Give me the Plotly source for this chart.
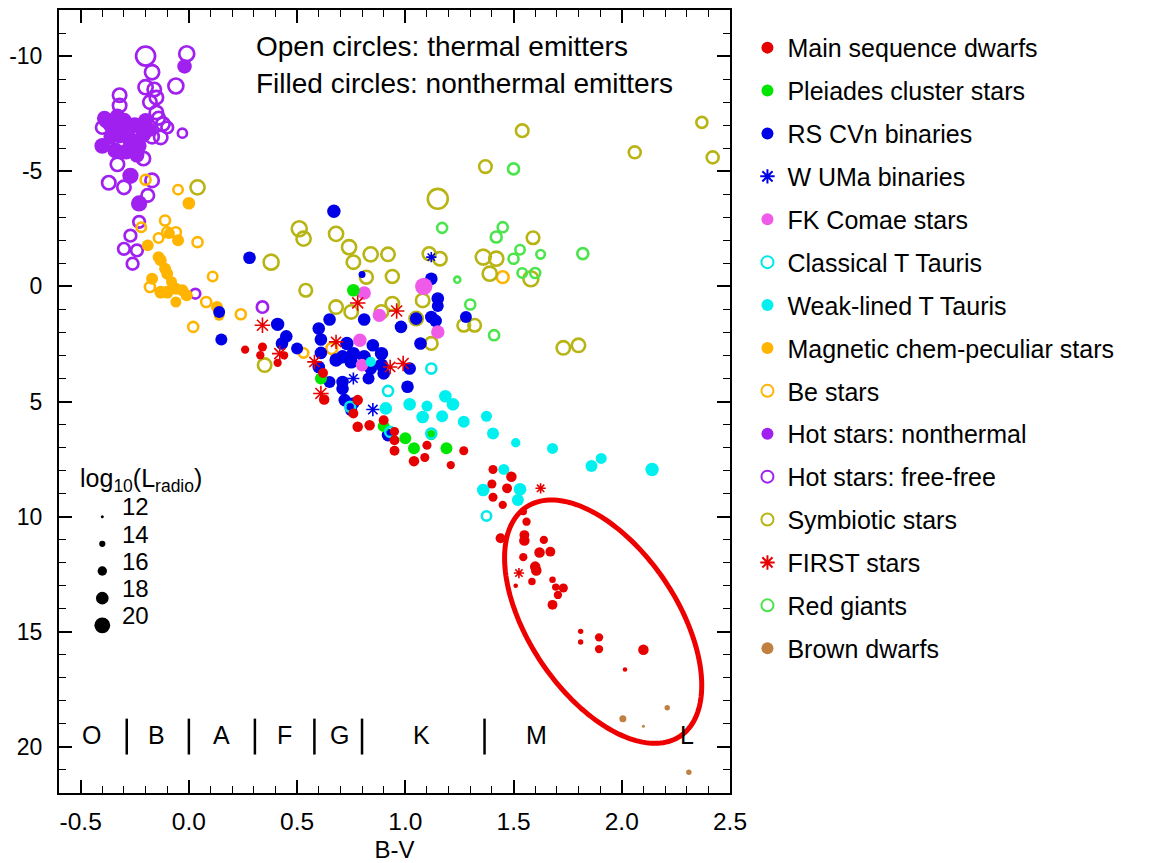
import numpy as np
import plotly.graph_objects as go

# ---------------------------------------------------------------------------
# Stellar radio sources: B-V colour, absolute magnitude M_V, log10(L_radio)
# ---------------------------------------------------------------------------
MSD_BV = [0.34, 0.33, 0.41, 0.62, 0.625, 0.78, 0.76, 0.78, 0.835, 0.90, 0.95, 0.95, 1.10, 1.09, 1.27,
          1.04, 1.21, 1.405, 1.49, 1.40, 1.47, 1.405, 1.45, 1.545, 1.56, 1.55, 1.44, 1.55, 1.64, 1.62,
          1.67, 1.545, 1.60, 1.605, 1.585, 1.51, 1.68, 1.695, 1.73, 1.705, 1.68, 1.81, 1.81, 1.895,
          1.895, 2.10, 2.015, 0.26, 0.44, 0.95]
MSD_MV = [2.63, 2.99, 3.32, 3.76, 4.91, 4.94, 5.52, 6.10, 6.03, 5.81, 6.68, 7.14, 6.90, 7.43, 7.14,
          7.59, 7.76, 7.95, 8.27, 8.58, 8.77, 9.16, 9.49, 9.78, 10.22, 10.80, 10.94, 11.04, 11.01, 11.56,
          11.52, 11.76, 12.17, 12.34, 12.82, 13.00, 12.74, 13.06, 13.10, 13.40, 13.83, 14.98, 15.44, 15.24,
          15.75, 15.78, 16.64, 2.75, 3.00, 6.30]
MSD_LOGL = [15.8, 15.3, 15.3, 16.3, 16.7, 16.7, 16.3, 16.7, 16.7, 16.3, 16.3, 16.3, 15.8, 15.8, 15.8,
            16.7, 15.3, 15.8, 16.7, 15.8, 16.3, 15.8, 15.3, 14.8, 15.3, 16.3, 16.3, 16.7, 15.3, 16.7,
            16.3, 15.3, 16.7, 16.7, 14.8, 13.0, 14.2, 14.8, 15.8, 15.3, 16.3, 13.5, 13.5, 15.3,
            15.3, 16.7, 13.0, 15.3, 15.3, 15.8]

PLE_BV = [0.76, 0.61, 0.90, 1.00, 1.04, 1.19, 1.12]
PLE_MV = [0.17, 4.00, 6.07, 6.60, 7.03, 7.03, 6.46]
PLE_LOGL = [18.0, 17.6, 17.6, 17.6, 17.6, 17.6, 16.4]

RSC_BV = [0.67, 0.28, 0.15, 0.41, 0.45, 0.43, 0.50, 0.65, 0.60, 0.61, 0.61, 0.60, 0.65, 0.71, 0.71,
          0.73, 0.71, 0.76, 0.81, 0.85, 0.89, 0.89, 0.90, 0.83, 1.01, 1.02, 0.98, 1.05, 1.12, 1.15,
          1.12, 1.07, 0.81, 1.28, 0.80, 0.72, 0.75, 0.92, 0.84, 0.14, 1.15, 1.14, 0.68, 0.75, 0.76]
RSC_MV = [-3.26, -1.24, 2.31, 1.65, 2.17, 2.48, 2.70, 1.44, 1.83, 2.31, 2.89, 3.50, 4.15, 4.15, 4.44,
          2.48, 3.06, 2.92, 3.06, 2.56, 2.92, 3.42, 3.78, 4.00, 4.36, 3.57, 1.76, 1.40, -0.33, 0.53,
          1.33, 2.48, 1.44, 1.33, -0.51, 4.94, 5.38, 6.46, 3.57, 1.11, 0.85, 1.50, 3.20, 3.28, 5.08]
RSC_LOGL = [18.5, 18.0, 17.6, 18.5, 18.0, 18.0, 17.6, 18.0, 18.0, 18.0, 18.0, 18.0, 17.6, 18.0, 18.0,
            18.5, 18.5, 18.5, 18.5, 18.0, 18.5, 18.5, 18.0, 17.6, 18.0, 18.0, 18.0, 18.0, 18.0, 18.0,
            18.0, 18.0, 18.0, 17.6, 14.5, 18.0, 17.6, 18.0, 18.0, 17.6, 17.6, 18.0, 18.5, 18.5, 17.6]

WUM_BV = [0.76, 0.85, 1.12]
WUM_MV = [4.00, 5.35, -1.27]
WUM_LOGL = [16.4, 17.0, 15.5]

FKC_BV = [1.085, 0.81, 0.88, 1.15, 0.79, 0.80]
FKC_MV = [0.00, 0.29, 1.26, 1.98, 2.34, 3.42]
FKC_LOGL = [21.0, 18.5, 18.5, 18.5, 18.5, 18.0]

CTT_BV = [1.12, 0.92, 0.745, 0.93, 1.12, 1.375]
CTT_MV = [3.57, 4.54, 5.23, 6.32, 6.39, 9.97]
CTT_LOGL = [16.4, 16.4, 16.4, 16.4, 16.4, 16.0]

WTT_BV = [0.84, 0.91, 1.02, 1.08, 1.17, 1.185, 1.22, 1.27, 1.375, 1.405, 1.51, 1.68, 1.86, 1.905,
          2.14, 1.455, 1.36, 1.53, 1.52, 1.10]
WTT_MV = [3.28, 5.30, 5.12, 5.67, 5.64, 4.77, 5.12, 5.88, 5.64, 6.39, 6.79, 7.04, 7.80, 7.47,
          7.95, 7.95, 8.84, 8.81, 9.28, 5.20]
WTT_LOGL = [16.4, 18.0, 18.0, 18.0, 17.6, 18.0, 18.0, 17.6, 17.0, 17.6, 16.0, 17.0, 17.6, 17.0,
            18.5, 17.0, 18.0, 18.0, 17.6, 17.0]

MCP_BV = [0.00, -0.19, -0.14, -0.13, -0.11, -0.10, -0.17, -0.05, -0.09, -0.13, -0.10, -0.06, -0.03,
          -0.06, -0.01, 0.13, 0.14, -0.08]
MCP_MV = [-3.61, -1.78, -1.27, -1.13, -0.77, -0.55, -0.33, -2.00, -2.30, 0.25, 0.25, 0.10, 0.17,
          0.68, 0.39, 0.90, 1.26, -0.20]
MCP_LOGL = [18.0, 17.6, 17.6, 17.6, 17.6, 17.6, 17.6, 17.6, 17.0, 18.2, 18.2, 17.6, 17.6,
            17.0, 17.6, 17.6, 17.0, 17.0]

BE_BV = [-0.20, -0.05, -0.11, -0.22, -0.10, -0.06, 0.04, 0.11, -0.18, 0.08, 0.02, 0.24, 0.53, 0.66,
         1.45, -0.14]
BE_MV = [-4.63, -4.20, -2.86, -2.57, -2.35, -2.35, -1.92, -0.43, 0.03, 0.68, 1.76, 1.21, 2.89, 2.70,
         -0.40, -2.10]
BE_LOGL = [16.4, 16.0, 16.4, 16.0, 16.4, 16.4, 16.4, 16.0, 16.4, 16.4, 16.4, 16.4, 16.0, 17.0,
           17.5, 16.0]

HNT_BV = [-0.02, -0.39, -0.35, -0.30, -0.25, -0.20, -0.32, -0.27, -0.21, -0.40, -0.34, -0.29, -0.23,
          -0.28, -0.27, -0.23, -0.33, -0.18, -0.36, -0.24]
HNT_MV = [-9.55, -7.30, -7.00, -7.20, -7.00, -7.20, -6.55, -6.35, -6.60, -6.10, -5.90, -5.85, -6.10,
          -6.90, -4.80, -3.60, -7.40, -6.80, -6.50, -5.70]
HNT_LOGL = [19.2, 19.5, 20.0, 20.0, 20.0, 19.5, 20.0, 20.5, 20.0, 20.0, 20.0, 20.0, 19.5,
            20.0, 20.3, 20.3, 19.5, 19.0, 19.5, 19.5]

HFF_BV = [-0.20, -0.01, -0.17, -0.06, -0.20, -0.16, -0.32, -0.15, -0.18, -0.32, -0.15, -0.12, -0.38,
          -0.13, -0.03, -0.17, -0.33, -0.37, -0.30, -0.17, -0.21, -0.19, -0.23, -0.27, -0.30, -0.24,
          -0.26, 0.03, 0.34, -0.36, -0.25, -0.14, -0.10, -0.40]
HFF_MV = [-10.0, -10.1, -9.30, -8.70, -8.65, -8.55, -8.30, -8.20, -8.00, -7.85, -7.55, -7.05, -7.20,
          -6.47, -6.65, -6.50, -5.30, -4.50, -4.30, -4.60, -5.55, -3.95, -2.80, -2.20, -1.63, -1.56,
          -0.98, 0.32, 0.90, -7.00, -6.00, -7.30, -6.90, -6.90]
HFF_LOGL = [22.0, 19.5, 19.0, 19.5, 19.0, 18.5, 18.5, 18.5, 18.5, 18.5, 18.5, 18.5, 18.5,
            18.5, 15.8, 18.5, 18.5, 18.5, 18.5, 18.5, 18.5, 18.0, 17.4, 17.4, 17.4, 17.4,
            17.4, 16.2, 17.2, 18.5, 18.0, 18.0, 17.4, 18.0]

SYM_BV = [0.04, 1.15, 0.51, 0.53, 0.68, 0.74, 0.84, 0.92, 0.76, 0.38, 0.82, 0.94, 1.11, 1.16, 0.54,
          0.68, 0.75, 0.94, 0.89, 1.05, 1.08, 1.12, 0.35, 1.27, 1.32, 1.36, 1.39, 1.42, 1.54, 2.06,
          2.42, 2.37, 1.37, 1.59, 1.58, 1.73, 1.80]
SYM_MV = [-4.30, -3.80, -2.50, -2.07, -2.28, -1.70, -1.39, -1.39, -1.05, -1.05, -0.40, -0.43, -1.42,
          -1.20, 0.17, 0.90, 1.11, 0.75, 1.11, 1.40, 0.61, 2.48, 3.42, 1.69, 1.69, -1.27, -0.55, -1.20,
          -6.76, -5.82, -5.60, -7.12, -5.20, -2.11, -0.33, 2.67, 2.56]
SYM_LOGL = [19.0, 22.6, 19.5, 19.0, 19.0, 19.0, 19.0, 18.5, 18.5, 19.5, 18.2, 18.2, 18.2, 18.5,
            18.0, 18.5, 18.5, 18.5, 18.5, 18.5, 18.5, 18.0, 18.5, 18.0, 18.0, 19.5, 19.0, 19.0,
            18.0, 17.6, 17.6, 17.0, 18.0, 18.0, 19.5, 18.5, 18.5]

FST_BV = [0.34, 0.42, 0.58, 0.78, 0.96, 0.68, 0.93, 0.99, 0.61, 1.625, 1.525]
FST_MV = [1.69, 2.92, 3.28, 0.72, 1.07, 2.41, 3.50, 3.35, 4.65, 8.77, 12.45]
FST_LOGL = [18.2, 18.2, 17.6, 18.2, 18.2, 17.6, 17.6, 18.2, 18.2, 15.5, 15.5]

RGI_BV = [1.50, 1.17, 1.45, 1.42, 1.53, 1.50, 1.625, 1.82, 1.24, 1.54, 1.60, 1.30, 1.41]
RGI_MV = [-5.10, -2.54, -2.57, -2.14, -1.59, -1.20, -1.39, -1.42, -0.29, -0.58, -0.58, 0.79, 2.12]
RGI_LOGL = [17.0, 16.4, 16.4, 17.0, 16.0, 16.4, 15.5, 17.0, 13.9, 16.0, 16.4, 16.4, 16.4]

BDW_BV = [2.005, 2.10, 2.21, 2.31]
BDW_MV = [18.78, 19.10, 18.30, 21.10]
BDW_LOGL = [14.5, 12.0, 13.5, 13.5]

# size-key values and spectral-type labels
SIZE_KEY_LOGL = [12, 14, 16, 18, 20]
SPEC_TYPES = ["O", "B", "A", "F", "G", "K", "M", "L"]
SPEC_LABEL_BV = [-0.45, -0.148, 0.153, 0.44, 0.695, 1.074, 1.606, 2.30]
SPEC_BOUNDARY_BV = [-0.287, 0.0, 0.305, 0.58, 0.80, 1.366]

X_TICKS = [-0.5, 0.0, 0.5, 1.0, 1.5, 2.0, 2.5]
Y_TICKS = [-10, -5, 0, 5, 10, 15, 20]

# ---------------------------------------------------------------------------
FONT = "Liberation Sans, Arial, Helvetica, sans-serif"
W, H = 1159, 863
ML, MR, MT, MB = 59, 429, 10, 70
XR = [-0.6, 2.5]
YR = [22, -12]


def msize(logl):
    """Marker diameter (px) from log10 radio luminosity."""
    return [3 + 1.6 * (v - 12) for v in logl]


def txt(size):
    return dict(size=size, family=FONT, color="black")


# (name, bv, mv, logl, colour, symbol, line width, legend rank)
series = [
    ("Hot stars: free-free", HFF_BV, HFF_MV, HFF_LOGL, "#A020F0", "circle-open", 2.7, 11),
    ("Hot stars: nonthermal", HNT_BV, HNT_MV, HNT_LOGL, "#A020F0", "circle", 0, 10),
    ("Be stars", BE_BV, BE_MV, BE_LOGL, "#FFB400", "circle-open", 2.6, 9),
    ("Magnetic chem-peculiar stars", MCP_BV, MCP_MV, MCP_LOGL, "#FFB400", "circle", 0, 8),
    ("Symbiotic stars", SYM_BV, SYM_MV, SYM_LOGL, "#B8B414", "circle-open", 2.6, 12),
    ("Red giants", RGI_BV, RGI_MV, RGI_LOGL, "#4CE44C", "circle-open", 2.6, 14),
    ("RS CVn binaries", RSC_BV, RSC_MV, RSC_LOGL, "#0000E6", "circle", 0, 3),
    ("FK Comae stars", FKC_BV, FKC_MV, FKC_LOGL, "#F05AE8", "circle", 0, 5),
    ("Pleiades cluster stars", PLE_BV, PLE_MV, PLE_LOGL, "#00E600", "circle", 0, 2),
    ("W UMa binaries", WUM_BV, WUM_MV, WUM_LOGL, "#0000E6", "asterisk-open", 1.6, 4),
    ("Classical T Tauris", CTT_BV, CTT_MV, CTT_LOGL, "#00E8E8", "circle-open", 2.6, 6),
    ("Weak-lined T Tauris", WTT_BV, WTT_MV, WTT_LOGL, "#00F0F0", "circle", 0, 7),
    ("Main sequence dwarfs", MSD_BV, MSD_MV, MSD_LOGL, "#E60000", "circle", 0, 1),
    ("FIRST stars", FST_BV, FST_MV, FST_LOGL, "#E60000", "asterisk-open", 1.6, 13),
    ("Brown dwarfs", BDW_BV, BDW_MV, BDW_LOGL, "#C08040", "circle", 0, 15),
]

fig = go.Figure()
for name, bv, mv, logl, col, sym, lw, rank in series:
    fig.add_trace(go.Scatter(
        x=bv, y=mv, mode="markers", name=name,
        legendgroup=name, legendrank=rank,
        marker=dict(size=msize(logl), color=col, symbol=sym, opacity=1,
                    line=dict(width=lw, color=col)),
        hoverinfo="skip",
    ))

# luminosity size key
key_y = [10.0 + 1.18 * i for i in range(len(SIZE_KEY_LOGL))]
fig.add_trace(go.Scatter(
    x=[-0.40] * len(SIZE_KEY_LOGL), y=key_y, mode="markers", showlegend=False,
    marker=dict(size=msize(SIZE_KEY_LOGL), color="black", opacity=1, line=dict(width=0)),
    hoverinfo="skip",
))
annotations = []
for v, yy in zip(SIZE_KEY_LOGL, key_y):
    annotations.append(dict(x=-0.317, y=yy - 0.42, xref="x", yref="y", text=str(v),
                            showarrow=False, xanchor="left", yanchor="middle", font=txt(24)))
annotations.append(dict(x=-0.51, y=8.4, xref="x", yref="y",
                        text="log<sub>10</sub>(L<sub>radio</sub>)",
                        showarrow=False, xanchor="left", yanchor="middle", font=txt(25)))

annotations.append(dict(x=0.30, y=-10.4, xref="x", yref="y",
                        text="Open circles: thermal emitters", showarrow=False,
                        xanchor="left", yanchor="middle", font=txt(28)))
annotations.append(dict(x=0.30, y=-8.8, xref="x", yref="y",
                        text="Filled circles: nonthermal emitters", showarrow=False,
                        xanchor="left", yanchor="middle", font=txt(28)))

for lab, bv in zip(SPEC_TYPES, SPEC_LABEL_BV):
    annotations.append(dict(x=bv, y=19.5, xref="x", yref="y", text=lab, showarrow=False,
                            xanchor="center", yanchor="middle", font=txt(25)))

shapes = []
for bv in SPEC_BOUNDARY_BV:
    shapes.append(dict(type="line", xref="x", yref="y", x0=bv, x1=bv, y0=18.77, y1=20.33,
                       line=dict(color="black", width=2.5)))

# highlight ellipse round the cool dwarfs (semi-axes in screen pixels)
px_x = (W - ML - MR) / (XR[1] - XR[0])
px_y = (H - MT - MB) / (YR[0] - YR[1])
cx, cy = 1.914, 14.56
a_px, b_px, tilt = 138.0, 74.0, np.deg2rad(56.0)
t = np.linspace(0, 2 * np.pi, 181)
ex = cx + (a_px * np.cos(t) * np.cos(tilt) - b_px * np.sin(t) * np.sin(tilt)) / px_x
ey = cy + (a_px * np.cos(t) * np.sin(tilt) + b_px * np.sin(t) * np.cos(tilt)) / px_y
path = "M " + " L ".join(f"{xx:.4f},{yy:.4f}" for xx, yy in zip(ex, ey)) + " Z"
shapes.append(dict(type="path", xref="x", yref="y", path=path,
                   line=dict(color="#EE0000", width=5), fillcolor="rgba(0,0,0,0)"))

axis_common = dict(
    showline=True, linecolor="black", linewidth=2, mirror="ticks",
    ticks="inside", ticklen=13, tickwidth=1.5, tickcolor="black",
    showgrid=False, zeroline=False, automargin=False,
)

fig.update_layout(
    width=W, height=H,
    margin=dict(l=ML, r=MR, t=MT, b=MB),
    paper_bgcolor="white", plot_bgcolor="white",
    font=dict(family=FONT, size=24, color="black"),
    xaxis=dict(range=XR, tickmode="array", tickvals=X_TICKS,
               ticktext=[f"{v:.1f}" for v in X_TICKS],
               tickfont=txt(24.5),
               minor=dict(ticks="inside", ticklen=7, tickwidth=1.2, dtick=0.1, tick0=0,
                          tickcolor="black", showgrid=False),
               title=dict(text="B-V", font=txt(24), standoff=9),
               ticklabelstandoff=6, **axis_common),
    yaxis=dict(range=YR, tickmode="array", tickvals=Y_TICKS,
               ticktext=[str(v) for v in Y_TICKS],
               tickfont=txt(23),
               minor=dict(ticks="inside", ticklen=7, tickwidth=1.2, dtick=1, tick0=0,
                          tickcolor="black", showgrid=False),
               ticklabelstandoff=10, **axis_common),
    legend=dict(x=1.026, y=0.981, xref="paper", yref="paper", xanchor="left", yanchor="top",
                font=txt(25),
                itemsizing="constant", tracegroupgap=7.4, traceorder="grouped",
                bgcolor="rgba(0,0,0,0)", borderwidth=0),
    annotations=annotations,
    shapes=shapes,
)

fig.write_html("out.html")
